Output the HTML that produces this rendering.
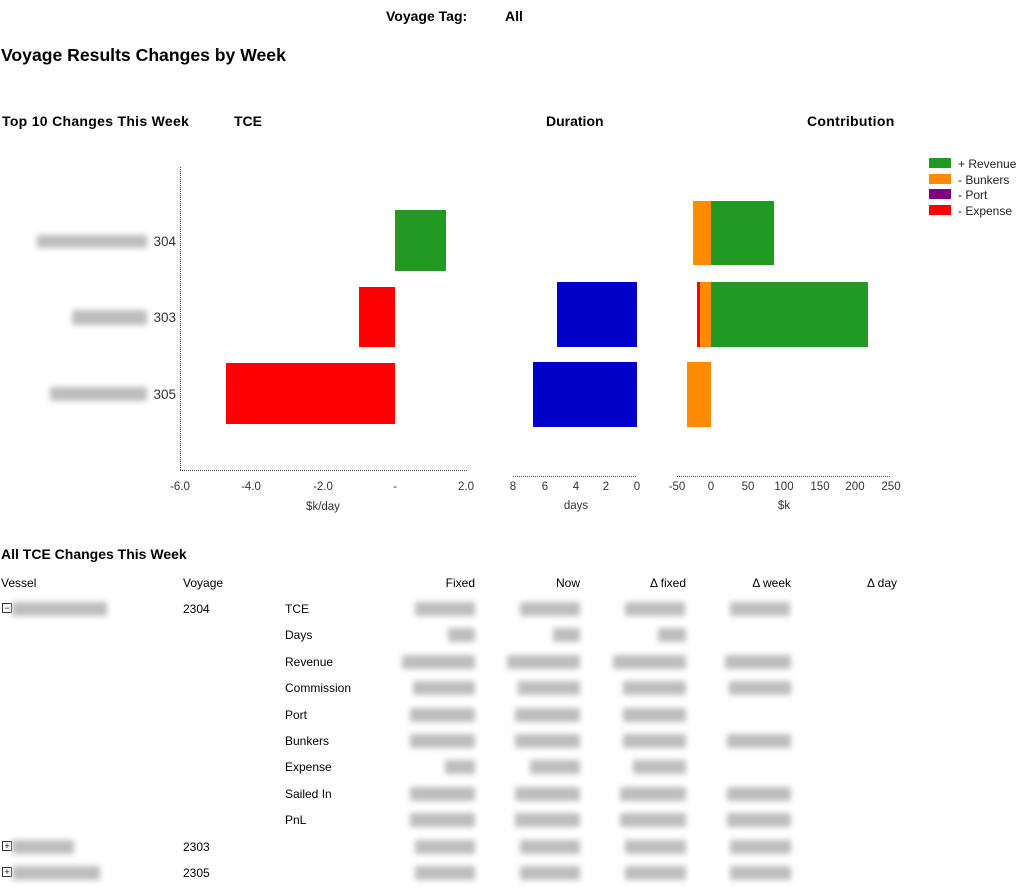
<!DOCTYPE html>
<html><head><meta charset="utf-8"><style>
body{margin:0;width:1025px;height:888px;background:#fff;font-family:"Liberation Sans",sans-serif;color:#000;position:relative;overflow:hidden}
.a{position:absolute;white-space:nowrap}
.b{font-weight:bold}
.t{font-size:12px}
.r{text-align:right}
.blur{position:absolute;height:14px;background:#bdbdbd;filter:blur(3px);border-radius:2px}
.box{position:absolute;width:8px;height:8px;border:1px solid #333;font-size:9px;line-height:8px;text-align:center}
</style></head><body>
<div class="a b" style="left:386px;top:8px;font-size:14px">Voyage Tag:</div>
<div class="a b" style="left:505px;top:8px;font-size:14px">All</div>
<div class="a b" style="left:1px;top:45px;font-size:17.6px">Voyage Results Changes by Week</div>
<div class="a b" style="left:2px;top:113px;font-size:14px;letter-spacing:0.3px">Top 10 Changes This Week</div>
<div class="a b" style="left:234px;top:113px;font-size:14px">TCE</div>
<div class="a b" style="left:546px;top:113px;font-size:14px">Duration</div>
<div class="a b" style="left:807px;top:113px;font-size:14px;letter-spacing:0.3px">Contribution</div>

<svg class="a" style="left:0;top:0" width="1025" height="530" font-family="Liberation Sans, sans-serif" font-size="11.5">
<g stroke="#444" stroke-dasharray="1,1" fill="none">
<line x1="180.5" y1="167" x2="180.5" y2="471"/>
<line x1="180" y1="470.5" x2="467" y2="470.5"/>
<line x1="513" y1="476.5" x2="637" y2="476.5"/>
<line x1="677" y1="476.5" x2="890" y2="476.5"/>
</g>
<rect x="395" y="210" width="51" height="61" fill="#229922"/>
<rect x="359" y="287" width="36" height="60" fill="#ff0000"/>
<rect x="226" y="363" width="169" height="61" fill="#ff0000"/>
<rect x="557" y="282" width="80" height="65" fill="#0000c8"/>
<rect x="533" y="362" width="104" height="65" fill="#0000c8"/>
<rect x="693" y="201" width="18" height="64" fill="#ff8c00"/>
<rect x="711" y="201" width="63" height="64" fill="#229922"/>
<rect x="697" y="282" width="3" height="65" fill="#ff0000"/>
<rect x="700" y="282" width="11" height="65" fill="#ff8c00"/>
<rect x="711" y="282" width="157" height="65" fill="#229922"/>
<rect x="687" y="362" width="24" height="65" fill="#ff8c00"/>
<g fill="#333" text-anchor="middle">
<text x="180" y="490">-6.0</text><text x="251" y="490">-4.0</text><text x="323" y="490">-2.0</text><text x="395" y="490">-</text><text x="466" y="490">2.0</text>
<text x="323" y="510">$k/day</text>
<text x="513" y="490">8</text><text x="545" y="490">6</text><text x="576" y="490">4</text><text x="606" y="490">2</text><text x="637" y="490">0</text>
<text x="576" y="509">days</text>
<text x="677" y="490">-50</text><text x="711" y="490">0</text><text x="748" y="490">50</text><text x="784" y="490">100</text><text x="820" y="490">150</text><text x="855" y="490">200</text><text x="891" y="490">250</text>
<text x="784" y="509">$k</text>
</g>
<g fill="#333" font-size="13.5" text-anchor="end">
<text x="176" y="246">304</text><text x="176" y="322">303</text><text x="176" y="399">305</text>
</g>
<rect x="929" y="158" width="22" height="10" fill="#229922"/>
<rect x="929" y="174" width="22" height="10" fill="#ff8c00"/>
<rect x="929" y="189" width="22" height="10" fill="#800080"/>
<rect x="929" y="205" width="22" height="10" fill="#ff0000"/>
<g fill="#222" font-size="12"><text x="958" y="168">+ Revenue</text><text x="958" y="184">- Bunkers</text><text x="958" y="199">- Port</text><text x="958" y="215">- Expense</text></g>
</svg>
<div class="blur" style="left:37px;top:235px;width:110px;height:13px"></div>
<div class="blur" style="left:72px;top:310px;width:75px;height:15px"></div>
<div class="blur" style="left:50px;top:387px;width:97px;height:14px"></div>

<div class="a b" style="left:1px;top:546px;font-size:14px">All TCE Changes This Week</div>
<div class="a t" style="left:1px;top:576px">Vessel</div>
<div class="a t" style="left:183px;top:576px">Voyage</div>
<div class="a t r" style="left:375px;top:576px;width:100px">Fixed</div>
<div class="a t r" style="left:480px;top:576px;width:100px">Now</div>
<div class="a t r" style="left:586px;top:576px;width:100px">Δ fixed</div>
<div class="a t r" style="left:691px;top:576px;width:100px">Δ week</div>
<div class="a t r" style="left:797px;top:576px;width:100px">Δ day</div>

<div class="box" style="left:2px;top:603px">−</div>
<div class="blur" style="left:12px;top:602px;width:95px"></div>
<div class="a t" style="left:183px;top:602px">2304</div>
<div class="a t" style="left:285px;top:602px">TCE</div>
<div class="a t" style="left:285px;top:628px">Days</div>
<div class="a t" style="left:285px;top:655px">Revenue</div>
<div class="a t" style="left:285px;top:681px">Commission</div>
<div class="a t" style="left:285px;top:708px">Port</div>
<div class="a t" style="left:285px;top:734px">Bunkers</div>
<div class="a t" style="left:285px;top:760px">Expense</div>
<div class="a t" style="left:285px;top:787px">Sailed In</div>
<div class="a t" style="left:285px;top:813px">PnL</div>
<div class="box" style="left:2px;top:841px">+</div>
<div class="blur" style="left:12px;top:840px;width:62px"></div>
<div class="a t" style="left:183px;top:840px">2303</div>
<div class="box" style="left:2px;top:867px">+</div>
<div class="blur" style="left:12px;top:866px;width:88px"></div>
<div class="a t" style="left:183px;top:866px">2305</div>

<div class="blur" style="left:415px;top:602px;width:60px"></div><div class="blur" style="left:520px;top:602px;width:60px"></div><div class="blur" style="left:625px;top:602px;width:60px"></div><div class="blur" style="left:730px;top:602px;width:60px"></div>
<div class="blur" style="left:448px;top:628px;width:27px"></div><div class="blur" style="left:553px;top:628px;width:27px"></div><div class="blur" style="left:658px;top:628px;width:28px"></div>
<div class="blur" style="left:402px;top:655px;width:73px"></div><div class="blur" style="left:507px;top:655px;width:73px"></div><div class="blur" style="left:613px;top:655px;width:73px"></div><div class="blur" style="left:725px;top:655px;width:66px"></div>
<div class="blur" style="left:413px;top:681px;width:62px"></div><div class="blur" style="left:518px;top:681px;width:62px"></div><div class="blur" style="left:623px;top:681px;width:63px"></div><div class="blur" style="left:729px;top:681px;width:62px"></div>
<div class="blur" style="left:410px;top:708px;width:65px"></div><div class="blur" style="left:515px;top:708px;width:65px"></div><div class="blur" style="left:623px;top:708px;width:63px"></div>
<div class="blur" style="left:410px;top:734px;width:65px"></div><div class="blur" style="left:515px;top:734px;width:65px"></div><div class="blur" style="left:623px;top:734px;width:63px"></div><div class="blur" style="left:727px;top:734px;width:64px"></div>
<div class="blur" style="left:445px;top:760px;width:30px"></div><div class="blur" style="left:530px;top:760px;width:50px"></div><div class="blur" style="left:633px;top:760px;width:53px"></div>
<div class="blur" style="left:410px;top:787px;width:65px"></div><div class="blur" style="left:515px;top:787px;width:65px"></div><div class="blur" style="left:620px;top:787px;width:66px"></div><div class="blur" style="left:727px;top:787px;width:64px"></div>
<div class="blur" style="left:410px;top:813px;width:65px"></div><div class="blur" style="left:515px;top:813px;width:65px"></div><div class="blur" style="left:620px;top:813px;width:66px"></div><div class="blur" style="left:727px;top:813px;width:64px"></div>
<div class="blur" style="left:415px;top:840px;width:60px"></div><div class="blur" style="left:520px;top:840px;width:60px"></div><div class="blur" style="left:625px;top:840px;width:61px"></div><div class="blur" style="left:730px;top:840px;width:61px"></div>
<div class="blur" style="left:415px;top:866px;width:60px"></div><div class="blur" style="left:520px;top:866px;width:60px"></div><div class="blur" style="left:625px;top:866px;width:61px"></div><div class="blur" style="left:730px;top:866px;width:61px"></div>
</body></html>
